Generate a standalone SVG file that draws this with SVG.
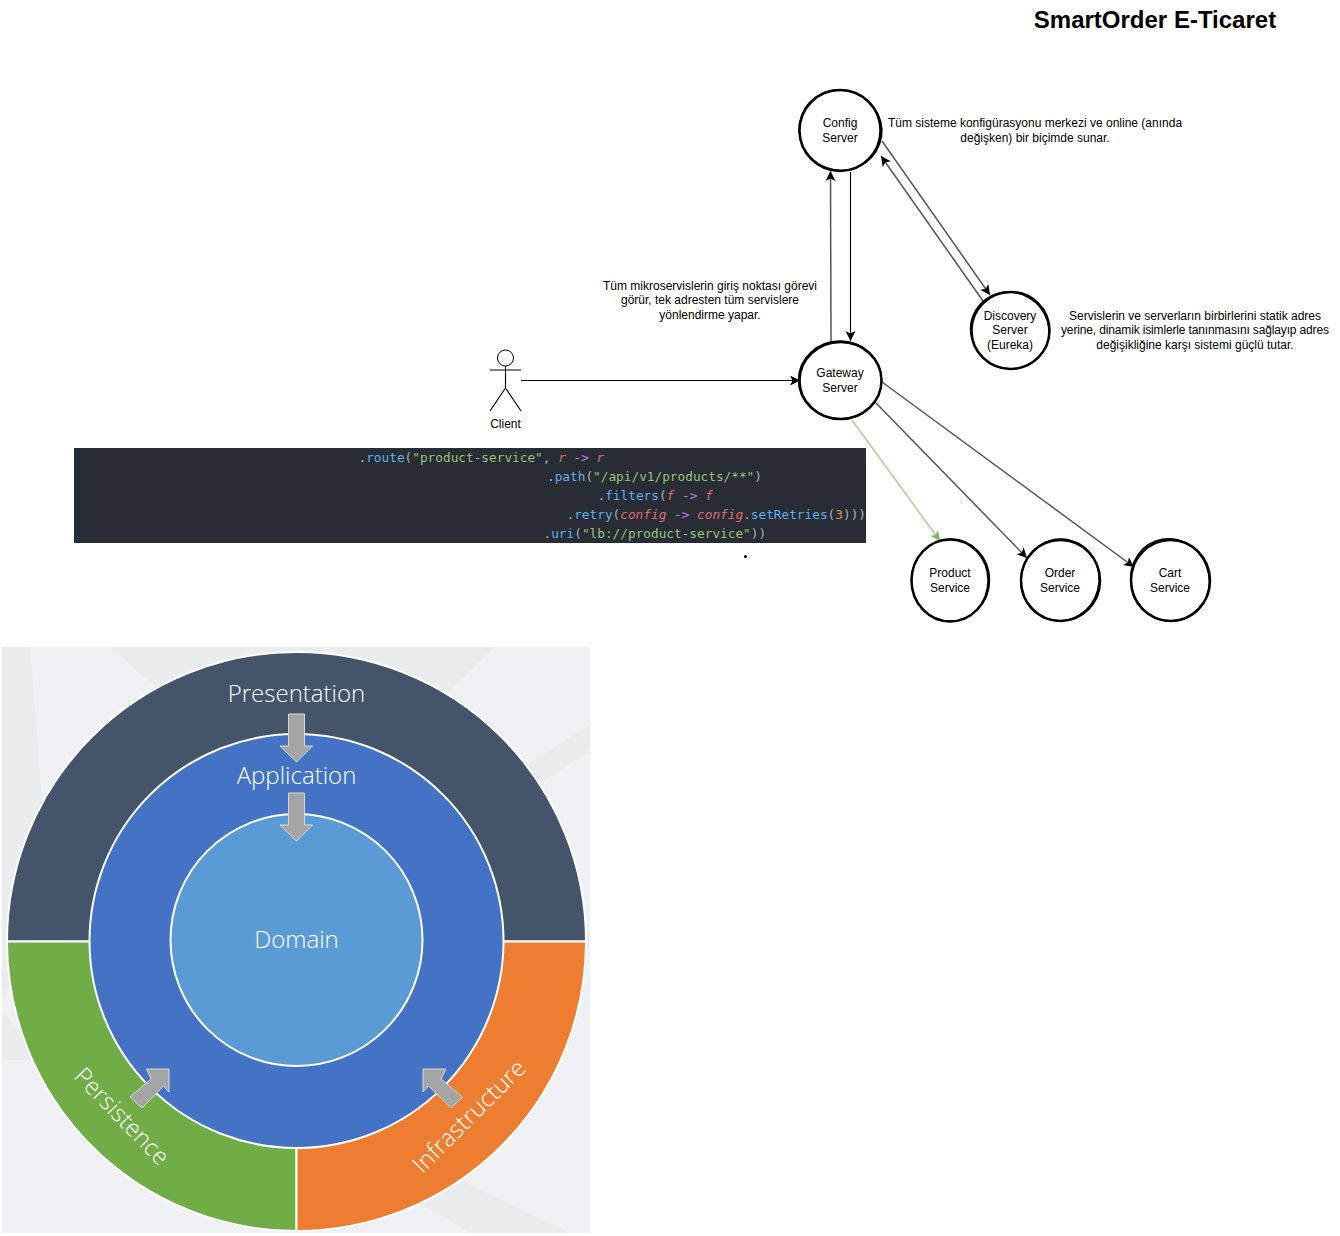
<svg xmlns="http://www.w3.org/2000/svg" width="1340" height="1236" viewBox="0 0 1340 1236">
<style>
text{font-family:"Liberation Sans",Arial,sans-serif;font-size:12px;fill:#000;text-anchor:middle}
.title{font-size:24px;font-weight:bold}
.a{fill:none;stroke:#000;stroke-width:2.500}
.b{fill:none;stroke:#000;stroke-width:1.500}
.c{fill:#fff;stroke:none}
.edge{fill:none;stroke:#555;stroke-width:1.500}
.k{stroke:#000;stroke-width:1.100;fill:none}
.code text{font-family:"DejaVu Sans Mono","Liberation Mono",monospace;font-size:12.75px;text-anchor:start;fill:#abb2bf;white-space:pre}
.fn{fill:#61afef}.str{fill:#98c379}.v{fill:#e06c75;font-style:italic}.op{fill:#c678dd}.num{fill:#d19a66}
.ring text{font-family:"Open Sans","Noto Sans",sans-serif;font-size:24px;font-weight:300;fill:#fff}
.seg{stroke:#fff;stroke-width:2}
.ar{fill:#a5a5a5;stroke:#d8d8d8;stroke-width:1}
</style>
<defs>
<marker id="h" markerWidth="12" markerHeight="12" refX="10" refY="5" orient="auto" markerUnits="userSpaceOnUse"><path d="M0 0L10 5L0 10L2.500 5Z" fill="#000"/></marker>
<marker id="g" markerWidth="12" markerHeight="12" refX="10" refY="5" orient="auto" markerUnits="userSpaceOnUse"><path d="M0 0L10 5L0 10L2.500 5Z" fill="#82b366"/></marker>
</defs>
<g id="architecture-rings" class="ring">
<rect x="2" y="647" width="588" height="586" fill="#eff1f4"/>
<path d="M2 647H30L50 900L2 1000ZM110 647H495L440 700L300 660L170 700ZM590 725V750L530 790L510 775ZM2 1010L40 1060L2 1060ZM470 1233L400 1190L440 1170L570 1233Z" fill="#ebecee"/>
<path class="seg" fill="#44546a" d="M7 941.500A289.500 289.500 0 0 1 586 941.500Z"/>
<path class="seg" fill="#70ad47" d="M7 941.500H296.500V1231A289.500 289.500 0 0 1 7 941.500Z"/>
<path class="seg" fill="#ed7d31" d="M586 941.500H296.500V1231A289.500 289.500 0 0 0 586 941.500Z"/>
<circle class="seg" fill="#4472c4" cx="296.500" cy="941" r="207"/>
<circle class="seg" fill="#5b9bd5" cx="296.500" cy="940" r="126"/>
<path class="ar" d="M288.500 714H304.500V746H312.500L296.500 762L280 746H288.500Z"/>
<path class="ar" d="M288.500 793H304.500V825H312.500L296.500 841L280 825H288.500Z"/>
<path class="ar" d="M169 1069V1092L163.500 1086L142 1108L130 1097L151 1079L146.500 1069Z"/>
<path class="ar" d="M423 1069V1092L428.500 1086L451 1108L462.500 1097L441 1079L446 1069Z"/>
<text x="296.500" y="702">Presentation</text>
<text x="296.500" y="784">Application</text>
<text x="296.500" y="948">Domain</text>
<text transform="translate(116 1122) rotate(46)">Persistence</text>
<text transform="translate(475 1122) rotate(-45)">Infrastructure</text>
</g>
<g id="code-block" class="code">
<rect x="74" y="448" width="792" height="95" fill="#282c34"/>
<text x="358.500" y="462">.<tspan class="fn">route</tspan>(<tspan class="str">"product-service"</tspan>, <tspan class="v">r</tspan> <tspan class="op">-&gt;</tspan> <tspan class="v">r</tspan></text>
<text x="547" y="481">.<tspan class="fn">path</tspan>(<tspan class="str">"/api/v1/products/**"</tspan>)</text>
<text x="597.500" y="500">.<tspan class="fn">filters</tspan>(<tspan class="v">f</tspan> <tspan class="op">-&gt;</tspan> <tspan class="v">f</tspan></text>
<text x="566.500" y="519">.<tspan class="fn">retry</tspan>(<tspan class="v">config</tspan> <tspan class="op">-&gt;</tspan> <tspan class="v">config</tspan>.<tspan class="fn">setRetries</tspan>(<tspan class="num">3</tspan>)))</text>
<text x="543.500" y="538">.<tspan class="fn">uri</tspan>(<tspan class="str">"lb://product-service"</tspan>))</text>
</g>
<circle cx="745.500" cy="556.500" r="1.500" fill="#000"/>
<g id="connectors">
<path class="k" d="M521 380.500H800" marker-end="url(#h)"/>
<path class="edge" d="M831 342L830.500 171" marker-end="url(#h)"/>
<path class="k" d="M850.500 172V341" marker-end="url(#h)"/>
<path class="edge" d="M882 141L990 295" marker-end="url(#h)"/>
<path class="edge" d="M983 301L881 156" marker-end="url(#h)"/>
<path d="M852 420L940 541" fill="none" stroke="#a9d18e" stroke-width="1.500" marker-end="url(#g)"/>
<path class="edge" d="M876 403L1027 558" marker-end="url(#h)"/>
<path class="edge" d="M882 382L1134 567" marker-end="url(#h)"/>
</g>
<g id="client">
<circle cx="505.500" cy="358" r="8" fill="#fff" stroke="#000"/>
<path class="k" d="M505.500 366V388M490 370H521M505.500 388L490 411M505.500 388L521 411"/>
<text x="505.500" y="428">Client</text>
</g>
<g id="config-server">
<ellipse class="c" cx="840" cy="130" rx="40" ry="40"/>
<ellipse class="a" cx="840" cy="130.500" rx="40.500" ry="40.500"/><ellipse class="b" cx="840.500" cy="130" rx="41.500" ry="40" transform="rotate(20 840 130)"/>
<text x="840" y="127">Config</text><text x="840" y="142">Server</text>
</g>
<g id="gateway-server">
<ellipse class="c" cx="840" cy="380" rx="40" ry="38"/>
<ellipse class="a" cx="840.500" cy="380.500" rx="41" ry="38.500"/><ellipse class="b" cx="840" cy="380" rx="41.500" ry="39"/>
<text x="840" y="377">Gateway</text><text x="840" y="392">Server</text>
</g>
<g id="discovery-server">
<ellipse class="c" cx="1010" cy="330" rx="38" ry="38"/>
<ellipse class="a" cx="1010.500" cy="330.500" rx="39" ry="38.500"/><ellipse class="b" cx="1010" cy="330.500" rx="39.500" ry="38" transform="rotate(30 1010 330)"/>
<text x="1010" y="320">Discovery</text><text x="1010" y="334">Server</text><text x="1010" y="349">(Eureka)</text>
</g>
<g id="product-service">
<ellipse class="c" cx="950" cy="580" rx="38" ry="40"/>
<ellipse class="a" cx="950" cy="580.500" rx="38.500" ry="41"/><ellipse class="b" cx="950.500" cy="580" rx="39" ry="41"/>
<text x="950" y="577">Product</text><text x="950" y="592">Service</text>
</g>
<g id="order-service">
<ellipse class="c" cx="1060" cy="580" rx="38" ry="40"/>
<ellipse class="a" cx="1060.500" cy="580.500" rx="39.500" ry="40.500"/><ellipse class="b" cx="1060" cy="580" rx="39" ry="41" transform="rotate(15 1060 580)"/>
<text x="1060" y="577">Order</text><text x="1060" y="592">Service</text>
</g>
<g id="cart-service">
<ellipse class="c" cx="1170" cy="580" rx="38" ry="40"/>
<ellipse class="a" cx="1170.500" cy="580.500" rx="39.500" ry="40.500"/><ellipse class="b" cx="1170" cy="580" rx="39" ry="41.500" transform="rotate(-20 1170 580)"/>
<text x="1170" y="577">Cart</text><text x="1170" y="592">Service</text>
</g>
<g id="notes">
<text class="title" x="1155" y="28">SmartOrder E-Ticaret</text>
<text x="1035" y="127">Tüm sisteme konfigürasyonu merkezi ve online (anında</text>
<text x="1035" y="142">değişken) bir biçimde sunar.</text>
<text x="710" y="290">Tüm mikroservislerin giriş noktası görevi</text>
<text x="710" y="304">görür, tek adresten tüm servislere</text>
<text x="710" y="319">yönlendirme yapar.</text>
<text x="1195" y="320">Servislerin ve serverların birbirlerini statik adres</text>
<text x="1195" y="334" textLength="268" lengthAdjust="spacing">yerine, dinamik isimlerle tanınmasını sağlayıp adres</text>
<text x="1195" y="349">değişikliğine karşı sistemi güçlü tutar.</text>
</g>
</svg>
